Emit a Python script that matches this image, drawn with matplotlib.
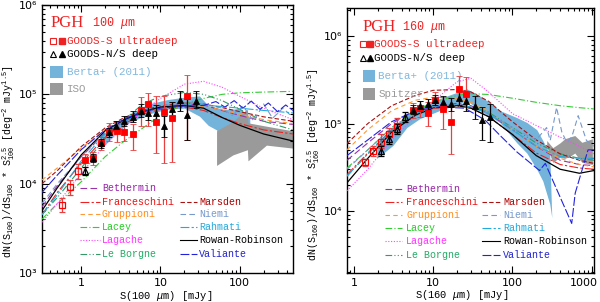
import numpy as np
import matplotlib
matplotlib.use('Agg')
import matplotlib.pyplot as plt
from matplotlib.ticker import LogLocator, FuncFormatter, NullFormatter
from matplotlib.patches import Rectangle
from matplotlib.transforms import ScaledTranslation

plt.rcParams['font.family'] = ['Liberation Mono', 'DejaVu Sans']
plt.rcParams['mathtext.fontset'] = 'custom'
plt.rcParams['mathtext.rm'] = 'Liberation Mono'
plt.rcParams['mathtext.it'] = 'Liberation Mono:italic'
plt.rcParams['mathtext.bf'] = 'Liberation Mono:bold'

# ---------------- 100 micron data ----------------
p100_open_x = [0.572, 0.727, 0.899]
p100_open_y = [5.8e3, 9.25e3, 1.38e4]
p100_open_lo = [4.84e3, 7.5e3, 1.14e4]
p100_open_hi = [6.97e3, 1.11e4, 1.68e4]
p100_fill_x = [1.12, 1.40, 1.77, 2.22, 2.80, 3.51, 4.44, 5.61, 6.92, 8.70, 11.0, 13.8, 21.9]
p100_fill_y = [1.84e4, 1.96e4, 2.85e4, 3.74e4, 3.84e4, 3.79e4, 3.62e4, 6.6e4, 7.7e4, 4.84e4, 6.4e4, 5.47e4, 9.6e4]
p100_fill_lo = [1.55e4, 1.63e4, 2.41e4, 2.97e4, 2.89e4, 2.97e4, 2.41e4, 4.37e4, 4.37e4, 2.23e4, 1.72e4, 1.77e4, 3.12e4]
p100_fill_hi = [2.17e4, 2.29e4, 3.37e4, 4.72e4, 4.98e4, 4.98e4, 4.6e4, 9.25e4, 1.03e5, 9.5e4, 9.5e4, 8.13e4, 1.63e5]
n100_open_x = [1.12]
n100_open_y = [1.40e4]
n100_open_lo = [1.26e4]
n100_open_hi = [1.55e4]
n100_fill_x = [1.40, 1.76, 2.22, 2.78, 3.50, 4.44, 5.61, 6.92, 8.70, 11.0, 13.8, 17.6, 21.9, 27.8]
n100_fill_y = [1.96e4, 2.87e4, 3.77e4, 4.45e4, 4.97e4, 5.6e4, 6.5e4, 6.25e4, 6.2e4, 4.42e4, 6.78e4, 8.7e4, 5.83e4, 8.4e4]
n100_fill_lo = [1.77e4, 2.54e4, 3.37e4, 3.94e4, 4.37e4, 4.84e4, 5.52e4, 5.1e4, 5.0e4, 3.29e4, 5.66e4, 6.45e4, 3.12e4, 6.97e4]
n100_fill_hi = [2.17e4, 3.2e4, 4.15e4, 4.98e4, 5.66e4, 6.45e4, 7.72e4, 7.5e4, 7.5e4, 5.66e4, 8.13e4, 1.08e5, 8.8e4, 1.08e5]

berta100_x = [1.75, 2.5, 4, 7, 12, 20, 31, 40, 51, 60, 80, 100, 134]
berta100_lo = [2.4e4, 3.4e4, 4.8e4, 6.0e4, 6.8e4, 7.0e4, 5.7e4, 4.5e4, 4.0e4, 3.1e4, 3.3e4, 3.1e4, 3.6e4]
berta100_hi = [3.4e4, 4.5e4, 6.0e4, 7.8e4, 8.7e4, 9.3e4, 9.6e4, 7.5e4, 7.1e4, 6.8e4, 6.8e4, 7.0e4, 5.5e4]
iso_x = [51, 82, 125, 127, 217, 470]
iso_lo = [1.6e4, 2.1e4, 2.4e4, 1.8e4, 2.7e4, 2.5e4]
iso_hi = [3.9e4, 5.0e4, 6.8e4, 4.8e4, 4.4e4, 3.9e4]

m100_x = [0.32, 0.5, 1, 2, 3.5, 6, 10, 20, 35, 60, 100, 200, 470]
m100_bethermin = [5.5e3, 9.5e3, 2e4, 3.7e4, 5e4, 6.2e4, 7.2e4, 7.8e4, 7.6e4, 6.6e4, 5.8e4, 5e4, 4.6e4]
m100_franceschini = [4.5e3, 8e3, 1.7e4, 3.3e4, 4.7e4, 6e4, 6.8e4, 7.2e4, 6.6e4, 5.5e4, 4.7e4, 4e4, 3.6e4]
m100_gruppioni = [1.1e4, 1.5e4, 2.5e4, 4e4, 5.2e4, 6.3e4, 7e4, 7.5e4, 7.3e4, 6.7e4, 6e4, 5.2e4, 4.7e4]
m100_lacey = [4e3, 6e3, 1.05e4, 2e4, 3e4, 4.2e4, 5.8e4, 7.8e4, 9e4, 1e5, 1.04e5, 1.06e5, 1.08e5]
m100_lagache = [3.7e3, 6e3, 1.3e4, 2.7e4, 4.3e4, 6.5e4, 9e4, 1.3e5, 1.4e5, 1.2e5, 9.5e4, 7e4, 5.2e4]
m100_leborgne = [4.5e3, 7e3, 1.5e4, 3.2e4, 5.2e4, 7.8e4, 9.5e4, 1.05e5, 1e5, 8.5e4, 6.8e4, 5e4, 4e4]
m100_marsden = [1e4, 1.4e4, 2.6e4, 4.2e4, 5.5e4, 6.6e4, 7.4e4, 8e4, 7.8e4, 7.1e4, 6.4e4, 5.6e4, 5e4]
m100_rahmati = [4.5e3, 7.5e3, 1.8e4, 3.6e4, 5e4, 6.3e4, 7.1e4, 7.6e4, 7.6e4, 7.3e4, 7e4, 6.6e4, 6.2e4]
m100_rowan = [5e3, 9e3, 2.1e4, 3.9e4, 5.2e4, 6.4e4, 7.2e4, 7.5e4, 7e4, 5.5e4, 4.5e4, 3.6e4, 3e4]
niemi100_x = [0.32, 0.5, 1, 2, 3.5, 6, 10, 20, 35, 60, 80, 110, 150, 200, 260, 350, 470]
niemi100_y = [6e3, 1e4, 2e4, 3.8e4, 5.2e4, 6.5e4, 7.4e4, 8e4, 7.8e4, 7e4, 5.8e4, 7.4e4, 5e4, 7.8e4, 5.4e4, 7e4, 5.5e4]
valiante100_x = [0.32, 0.5, 1, 2, 3.5, 6, 10, 20, 35, 50, 65, 85, 110, 140, 180, 230, 300, 380, 470]
valiante100_y = [8e3, 1.25e4, 2.4e4, 4e4, 5.3e4, 6.4e4, 7e4, 7.4e4, 7.5e4, 8.3e4, 7.2e4, 8.5e4, 7e4, 8.4e4, 6.8e4, 8e4, 6.4e4, 7.6e4, 6.6e4]

# ---------------- 160 micron data ----------------
p160_open_x = [1.377, 1.75, 2.17, 2.79, 3.46]
p160_open_y = [3.6e4, 4.9e4, 6.2e4, 7.5e4, 9.5e4]
p160_open_lo = [3.31e4, 4.3e4, 5.2e4, 6.2e4, 7.7e4]
p160_open_hi = [3.95e4, 5.6e4, 7.5e4, 9.0e4, 1.17e5]
p160_fill_x = [5.5, 6.8, 8.5, 10.7, 13.4, 16.7, 21.3, 26.3]
p160_fill_y = [1.43e5, 1.5e5, 1.31e5, 1.87e5, 1.47e5, 1.05e5, 2.49e5, 2.2e5]
p160_fill_lo = [1.17e5, 1.2e5, 9.5e4, 1.5e5, 8.7e4, 4.5e4, 1.53e5, 1.56e5]
p160_fill_hi = [1.74e5, 1.83e5, 1.75e5, 2.3e5, 2.0e5, 1.65e5, 3.54e5, 3.44e5]
n160_open_x = [2.17, 2.79, 3.46, 4.39]
n160_open_y = [4.85e4, 6.6e4, 8.7e4, 1.18e5]
n160_open_lo = [4.3e4, 5.9e4, 7.5e4, 1.03e5]
n160_open_hi = [5.5e4, 7.3e4, 1.0e5, 1.37e5]
n160_fill_x = [5.5, 6.8, 8.5, 10.7, 13.4, 16.7, 21.3, 26.3, 33.4, 41.9, 51.9]
n160_fill_y = [1.43e5, 1.6e5, 1.68e5, 1.87e5, 1.75e5, 1.68e5, 1.97e5, 1.8e5, 1.58e5, 1.1e5, 1.2e5]
n160_fill_lo = [1.27e5, 1.41e5, 1.445e5, 1.61e5, 1.48e5, 1.41e5, 1.61e5, 1.41e5, 1.14e5, 6.4e4, 6.2e4]
n160_fill_hi = [1.65e5, 1.83e5, 1.93e5, 2.14e5, 2.04e5, 1.98e5, 2.38e5, 2.26e5, 2.09e5, 1.56e5, 1.69e5]

berta160_x = [1.95, 3.1, 4.66, 6.8, 12.1, 18, 26.6, 42.4, 69.3, 114, 152, 203, 242, 296, 314]
berta160_hi = [5.9e4, 8.8e4, 1.3e5, 1.56e5, 1.93e5, 2.2e5, 2.5e5, 1.98e5, 1.41e5, 1.17e5, 1.03e5, 8.5e4, 6.4e4, 4.5e4, 8.4e3]
berta160_lo = [4.0e4, 5.6e4, 9.0e4, 1.14e5, 1.41e5, 1.6e5, 1.83e5, 1.34e5, 1.03e5, 6.0e4, 4.6e4, 3.0e4, 2.2e4, 1.2e4, 8.4e3]
spitzer_x = [271, 323, 397, 458, 530, 612, 752, 1020]
spitzer_hi = [6.4e4, 5.3e4, 6.0e4, 6.7e4, 7.0e4, 7.3e4, 6.1e4, 6.7e4]
spitzer_lo = [5.5e4, 3.6e4, 4.1e4, 4.0e4, 4.2e4, 4.6e4, 3.6e4, 3.4e4]

m160_x = [0.82, 1.5, 3, 6, 10, 20, 30, 50, 100, 200, 400, 700, 1070]
m160_bethermin = [3.8e4, 6e4, 1e5, 1.4e5, 1.6e5, 1.7e5, 1.6e5, 1.3e5, 8.5e4, 5.5e4, 3.8e4, 3.4e4, 3.3e4]
m160_franceschini = [2.6e4, 4.6e4, 8.5e4, 1.3e5, 1.55e5, 1.6e5, 1.5e5, 1.2e5, 7.5e4, 4.6e4, 3.4e4, 3.1e4, 3e4]
m160_gruppioni = [5e4, 8.5e4, 1.4e5, 1.85e5, 2e5, 1.95e5, 1.75e5, 1.4e5, 8.5e4, 5.5e4, 4e4, 3.4e4, 3.2e4]
m160_lacey = [3.1e4, 5e4, 9e4, 1.4e5, 1.75e5, 2.1e5, 2.2e5, 2.15e5, 1.95e5, 1.75e5, 1.6e5, 1.52e5, 1.47e5]
m160_lagache = [1.7e4, 3e4, 6.5e4, 1.2e5, 1.8e5, 3e5, 3.3e5, 2.3e5, 1.3e5, 9.5e4, 7e4, 5.5e4, 4.5e4]
m160_leborgne = [2.5e4, 4.5e4, 8.5e4, 1.3e5, 1.55e5, 1.65e5, 1.6e5, 1.35e5, 9e4, 6e4, 4.5e4, 4e4, 3.8e4]
m160_marsden = [5.9e4, 1e5, 1.6e5, 2.1e5, 2.4e5, 2.45e5, 2.3e5, 1.8e5, 1.05e5, 6.5e4, 4.5e4, 3.8e4, 3.5e4]
m160_rahmati = [2.5e4, 4.5e4, 8.5e4, 1.3e5, 1.55e5, 1.65e5, 1.55e5, 1.3e5, 8.5e4, 5.5e4, 4.2e4, 4e4, 4e4]
m160_rowan = [2.1e4, 4e4, 8e4, 1.25e5, 1.5e5, 1.6e5, 1.5e5, 1.2e5, 7.5e4, 4.3e4, 3e4, 2.7e4, 2.9e4]
niemi160_x = [0.82, 1.5, 3, 6, 10, 20, 30, 50, 100, 200, 270, 300, 361, 420, 485, 560, 676, 860, 1070]
niemi160_y = [3e4, 5e4, 9e4, 1.3e5, 1.55e5, 1.65e5, 1.55e5, 1.3e5, 9e4, 6.5e4, 9e4, 6.4e4, 1.53e5, 8e4, 6.1e4, 7e4, 1.23e5, 6.4e4, 5.5e4]
valiante160_x = [0.82, 1.5, 3, 6, 12, 25, 45, 70, 115, 220, 260, 560, 620, 900, 1070]
valiante160_y = [4.3e4, 6.5e4, 1.05e5, 1.4e5, 1.55e5, 1.5e5, 1.1e5, 7.3e4, 4.7e4, 2.9e4, 3.5e4, 7.2e3, 1.6e4, 5e4, 5e4]

# ---------------- styles ----------------
STY = {
    'Bethermin': dict(color='#9933aa', dashes=(6, 3)),
    'Franceschini': dict(color='#ee2222', dashes=(8, 2, 2, 2)),
    'Gruppioni': dict(color='#ff9933', dashes=(4, 3)),
    'Lacey': dict(color='#33cc33', dashes=(6, 2, 1, 2)),
    'Lagache': dict(color='#ff44ff', dashes=(1, 1.5)),
    'Le Borgne': dict(color='#339966', dashes=(6, 2, 1, 2, 1, 2)),
    'Marsden': dict(color='#aa1111', dashes=(4, 2)),
    'Niemi': dict(color='#7799cc', dashes=(5, 3)),
    'Rahmati': dict(color='#22aadd', dashes=(8, 2, 2, 2)),
    'Rowan-Robinson': dict(color='black', dashes=None),
    'Valiante': dict(color='#2222dd', dashes=(8, 2)),
}
TXTCOL = {'Bethermin': '#9922aa', 'Franceschini': '#ee1111', 'Gruppioni': '#ff8c1a',
          'Lacey': '#22cc22', 'Lagache': '#ff33ff', 'Le Borgne': '#22aa66',
          'Marsden': '#aa0000', 'Niemi': '#7799cc', 'Rahmati': '#22aadd',
          'Rowan-Robinson': 'black', 'Valiante': '#2222cc'}
LEFTCOL = ['Bethermin', 'Franceschini', 'Gruppioni', 'Lacey', 'Lagache', 'Le Borgne']
RIGHTCOL = ['Marsden', 'Niemi', 'Rahmati', 'Rowan-Robinson', 'Valiante']

BLUE = '#74b3da'
GRAY = '#9a9a9a'
SUP = {3: '10\u00b3', 4: '10\u2074', 5: '10\u2075', 6: '10\u2076'}


def line(ax, x, y, name, lw=0.8):
    s = STY[name]
    l, = ax.plot(x, y, color=s['color'], lw=lw, zorder=3)
    if s['dashes']:
        l.set_dashes(s['dashes'])


def legend(ax, xs, xcols, rows):
    for i, nm in enumerate(LEFTCOL):
        y = rows[i]
        l, = ax.plot(xs[0], [y, y], transform=ax.transAxes, color=STY[nm]['color'], lw=0.8, clip_on=False, zorder=6)
        if STY[nm]['dashes']:
            l.set_dashes(STY[nm]['dashes'])
        ax.text(xcols[0], y, nm, transform=ax.transAxes, color=TXTCOL[nm], fontsize=7.2, va='center', zorder=6)
    for i, nm in enumerate(RIGHTCOL):
        y = rows[i + 1]
        l, = ax.plot(xs[1], [y, y], transform=ax.transAxes, color=STY[nm]['color'], lw=0.8, clip_on=False, zorder=6)
        if STY[nm]['dashes']:
            l.set_dashes(STY[nm]['dashes'])
        ax.text(xcols[1], y, nm, transform=ax.transAxes, color=TXTCOL[nm], fontsize=7.2, va='center', zorder=6)


def errs(y, lo, hi):
    y = np.array(y); return [y - np.array(lo), np.array(hi) - y]


def points(ax, px, py, plo, phi, fx, fy, flo, fhi, col, ecol, marker, ms):
    ax.errorbar(px, py, yerr=errs(py, plo, phi), fmt=marker, mfc='none', mec=col, ms=ms, mew=0.9,
                ecolor=ecol, elinewidth=0.9, capsize=2.5, capthick=0.9, zorder=5)
    ax.errorbar(fx, fy, yerr=errs(fy, flo, fhi), fmt=marker, mfc=col, mec=col, ms=ms, mew=0.6,
                ecolor=ecol, elinewidth=0.9, capsize=2.5, capthick=0.9, zorder=5)


def header(ax, wl, refname, refcol, xs):
    xp, xw, xm1, xm2, xt, xb0, xb1, xbt, ys = xs
    ax.text(xp, ys[0], 'PGH', transform=ax.transAxes, color='#ee2222', family='Liberation Serif',
            fontsize=12, va='center')
    ax.text(xw, ys[0], wl + r' $\mu$m', transform=ax.transAxes, color='#ee2222', fontsize=8.5, va='center')
    ax.plot([xm1], [ys[1]], 's', mfc='none', mec='#ee2222', ms=4, mew=0.8, transform=ax.transAxes, clip_on=False)
    ax.plot([xm2], [ys[1]], 's', mfc='#ee2222', mec='#ee2222', ms=4, transform=ax.transAxes, clip_on=False)
    ax.text(xt, ys[1], 'GOODS-S ultradeep', transform=ax.transAxes, color='#ee2222', fontsize=7.8, va='center')
    ax.plot([xm1], [ys[2]], '^', mfc='none', mec='black', ms=4.5, mew=0.8, transform=ax.transAxes, clip_on=False)
    ax.plot([xm2], [ys[2]], '^', mfc='black', mec='black', ms=4.5, transform=ax.transAxes, clip_on=False)
    ax.text(xt, ys[2], 'GOODS-N/S deep', transform=ax.transAxes, color='black', fontsize=7.8, va='center')
    h = 0.044
    ax.add_patch(Rectangle((xb0, ys[3] - h / 2), xb1 - xb0, h, transform=ax.transAxes, color=BLUE, lw=0))
    ax.text(xbt, ys[3], 'Berta+ (2011)', transform=ax.transAxes, color='#80b8dd', fontsize=7.8, va='center')
    ax.add_patch(Rectangle((xb0, ys[4] - h / 2), xb1 - xb0, h, transform=ax.transAxes, color=GRAY, lw=0))
    ax.text(xbt, ys[4], refname, transform=ax.transAxes, color=refcol, fontsize=7.8, va='center')


def style_axes(ax, xlim, ylim, xlabel, ylabel, xlabx, ylabx, ylaby):
    ax.set_xscale('log'); ax.set_yscale('log')
    ax.set_xlim(*xlim); ax.set_ylim(*ylim)
    ax.yaxis.set_major_locator(LogLocator(base=10, numticks=10))
    ax.yaxis.set_minor_locator(LogLocator(base=10, subs=np.arange(2, 10), numticks=10))
    ax.xaxis.set_major_locator(LogLocator(base=10, numticks=10))
    ax.xaxis.set_minor_locator(LogLocator(base=10, subs=np.arange(2, 10), numticks=10))
    ax.yaxis.set_major_formatter(FuncFormatter(lambda v, p: SUP.get(int(round(np.log10(v))), '')))
    ax.xaxis.set_major_formatter(FuncFormatter(lambda v, p: '%d' % round(v)))
    ax.yaxis.set_minor_formatter(NullFormatter()); ax.xaxis.set_minor_formatter(NullFormatter())
    ax.tick_params(which='both', direction='in', top=True, right=True, width=0.8, labelsize=8)
    ax.tick_params(which='major', length=5)
    ax.tick_params(which='minor', length=2.5)
    for sp in ax.spines.values():
        sp.set_linewidth(1.0)
    ax.set_xlabel(xlabel, fontsize=7.5)
    ax.set_ylabel(ylabel, fontsize=7.2)
    ax.xaxis.set_label_coords(xlabx, -0.058)
    ax.yaxis.set_label_coords(ylabx, ylaby)


fig = plt.figure(figsize=(6.0, 3.02), dpi=100)
axL = fig.add_axes([42 / 600, 29 / 302, 251 / 600, 268 / 302])
axR = fig.add_axes([347 / 600, 29 / 302, 247 / 600, 265 / 302])

# ---- left panel ----
axL.fill_between(berta100_x, berta100_lo, berta100_hi, color=BLUE, lw=0, zorder=1)
axL.fill_between(iso_x, iso_lo, iso_hi, color=GRAY, lw=0, zorder=1)
line(axL, m100_x, m100_bethermin, 'Bethermin')
line(axL, m100_x, m100_franceschini, 'Franceschini')
line(axL, m100_x, m100_gruppioni, 'Gruppioni')
line(axL, m100_x, m100_lacey, 'Lacey')
line(axL, m100_x, m100_lagache, 'Lagache')
line(axL, m100_x, m100_leborgne, 'Le Borgne')
line(axL, m100_x, m100_marsden, 'Marsden')
line(axL, niemi100_x, niemi100_y, 'Niemi')
line(axL, m100_x, m100_rahmati, 'Rahmati')
line(axL, m100_x, m100_rowan, 'Rowan-Robinson', lw=0.9)
line(axL, valiante100_x, valiante100_y, 'Valiante')
points(axL, p100_open_x, p100_open_y, p100_open_lo, p100_open_hi,
       p100_fill_x, p100_fill_y, p100_fill_lo, p100_fill_hi, '#ff0000', '#e84040', 's', 4.5)
points(axL, n100_open_x, n100_open_y, n100_open_lo, n100_open_hi,
       n100_fill_x, n100_fill_y, n100_fill_lo, n100_fill_hi, 'black', 'black', '^', 5)
style_axes(axL, (0.32, 470), (1e3, 1e6), r'S(100 $\mu$m) [mJy]',
           r'dN(S$_{100}$)/dS$_{100}$ * S$_{100}^{2.5}$ [deg$^{-2}$ mJy$^{1.5}$]', 0.494, -0.098, 0.414)
header(axL, '100', 'ISO', '#999999',
       (0.032, 0.2, 0.044, 0.078, 0.098, 0.032, 0.084, 0.098, [0.933, 0.866, 0.817, 0.75, 0.687]))
legend(axL, ([0.151, 0.231], [0.55, 0.618]), (0.239, 0.625), [0.318, 0.266, 0.222, 0.173, 0.123, 0.071])

# ---- right panel ----
axR.fill_between(berta160_x, berta160_lo, berta160_hi, color=BLUE, lw=0, zorder=1)
axR.fill_between(spitzer_x, spitzer_lo, spitzer_hi, color=GRAY, lw=0, zorder=1)
line(axR, m160_x, m160_bethermin, 'Bethermin')
line(axR, m160_x, m160_franceschini, 'Franceschini')
line(axR, m160_x, m160_gruppioni, 'Gruppioni')
line(axR, m160_x, m160_lacey, 'Lacey')
line(axR, m160_x, m160_lagache, 'Lagache')
line(axR, m160_x, m160_leborgne, 'Le Borgne')
line(axR, m160_x, m160_marsden, 'Marsden')
line(axR, niemi160_x, niemi160_y, 'Niemi')
line(axR, m160_x, m160_rahmati, 'Rahmati')
line(axR, m160_x, m160_rowan, 'Rowan-Robinson', lw=0.9)
line(axR, valiante160_x, valiante160_y, 'Valiante')
points(axR, p160_open_x, p160_open_y, p160_open_lo, p160_open_hi,
       p160_fill_x, p160_fill_y, p160_fill_lo, p160_fill_hi, '#ff0000', '#e84040', 's', 4.5)
points(axR, n160_open_x, n160_open_y, n160_open_lo, n160_open_hi,
       n160_fill_x, n160_fill_y, n160_fill_lo, n160_fill_hi, 'black', 'black', '^', 5)
style_axes(axR, (0.82, 1070), (1.95e3, 2.1e6), r'S(160 $\mu$m) [mJy]',
           r'dN(S$_{160}$)/dS$_{160}$ * S$_{160}^{2.5}$ [deg$^{-2}$ mJy$^{1.5}$]', 0.464, -0.1, 0.41)
header(axR, '160', 'Spitzer', '#999999',
       (0.061, 0.223, 0.066, 0.095, 0.109, 0.064, 0.113, 0.126, [0.928, 0.864, 0.811, 0.743, 0.675]))
legend(axR, ([0.154, 0.222], [0.545, 0.619]), (0.239, 0.632), [0.316, 0.267, 0.219, 0.168, 0.121, 0.068])

fig.canvas.draw()
for ax in (axL, axR):
    for t in ax.get_xticklabels() + ax.get_yticklabels():
        t.set_fontfamily('DejaVu Sans')
for tk in axR.xaxis.get_major_ticks():
    if abs(tk.get_loc() - 1000) < 1:
        lab = tk.label1
        lab.set_transform(lab.get_transform() + ScaledTranslation(-8 / 100, 0, fig.dpi_scale_trans))
fig.savefig('out.png', dpi=100)
